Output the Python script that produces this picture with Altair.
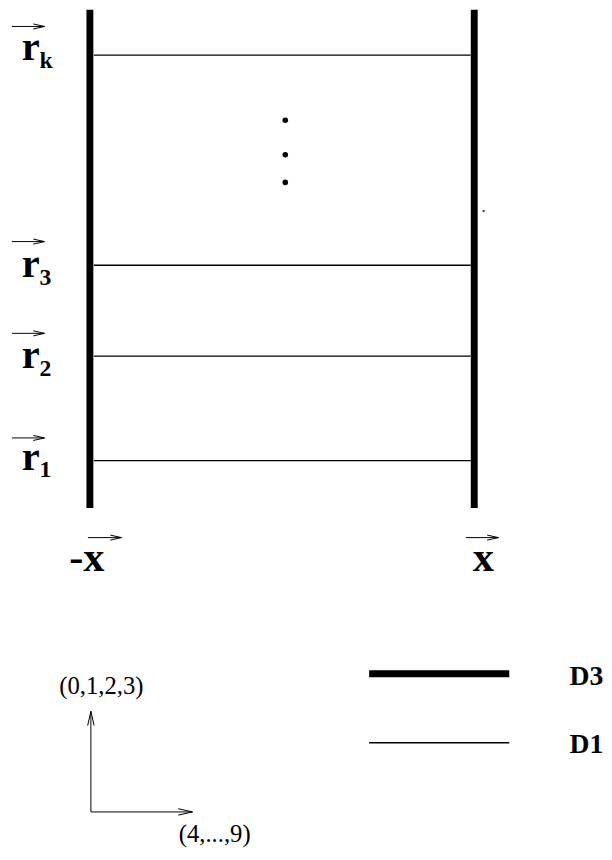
import altair as alt
import pandas as pd

# ---- diagram data (pixel coordinates of the page) ----
frame_x = [91, 480.5]            # thick D3 boundary lines
frame_top = [4, 4]
frame_bottom = [509, 509]

row_y = [50, 263, 355, 461]      # thin D1 lines r_k, r_3, r_2, r_1
row_x0 = [95, 95, 95, 95]
row_x1 = [477, 477, 477, 477]

vec_main = ["r", "r", "r", "r"]
vec_sub = ["k", "3", "2", "1"]
vec_main_x = [22, 22, 22, 22]
vec_sub_x = [40, 40, 40, 40]
vec_base_y = [55, 275, 367, 470]
vec_sub_y = [63, 283, 375, 478]

dots_x = [289, 289, 289]
dots_y = [116, 151, 179]
speck_x = [490]
speck_y = [208]

xlab_text = ["-x", "x"]
xlab_x = [70, 479]
xlab_y = [573, 573]

# arrows: shaft start -> tip, head angle, head size
arr_x0 = [12, 12, 12, 12, 89, 472, 92, 92]
arr_y0 = [21, 239, 332, 438, 539, 539, 817, 817]
arr_x1 = [45, 45, 45, 45, 123, 505, 92, 195]
arr_y1 = [21, 239, 332, 438, 539, 539, 715, 817]
arr_ang = [0, 0, 0, 0, 0, 0, 270, 0]
arr_head = [130, 130, 130, 130, 130, 130, 210, 210]

basis_text = ["(0,1,2,3)", "(4,...,9)"]
basis_x = [60, 181]
basis_y = [697, 847]

leg_names = ["D3", "D1"]
leg_width = [7, 1.5]
leg_y = [677, 747]
leg_x0 = [374, 374]
leg_x1 = [516, 516]
leg_text_x = [577, 577]
leg_text_y = [688, 757]

# ---- scales: data units == page pixels ----
W, H = 604, 852
xs = alt.Scale(domain=[8, 612], nice=False, zero=False)
ys = alt.Scale(domain=[8, 860], nice=False, zero=False, reverse=True)


def X(f):
    return alt.X(f, type="quantitative", scale=xs, axis=None)


def X2(f):
    return alt.X2(f)


def Y(f):
    return alt.Y(f, type="quantitative", scale=ys, axis=None)


def Y2(f):
    return alt.Y2(f)


frame_df = pd.DataFrame({"x": frame_x, "y": frame_top, "y2": frame_bottom})
rows_df = pd.DataFrame({"x": row_x0, "x2": row_x1, "y": row_y})
vec_df = pd.DataFrame({"t": vec_main, "x": vec_main_x, "y": vec_base_y})
sub_df = pd.DataFrame({"t": vec_sub, "x": vec_sub_x, "y": vec_sub_y})
dots_df = pd.DataFrame({"x": dots_x, "y": dots_y})
speck_df = pd.DataFrame({"x": speck_x, "y": speck_y})
xlab_df = pd.DataFrame({"t": xlab_text, "x": xlab_x, "y": xlab_y})
arr_df = pd.DataFrame({"x": arr_x0, "y": arr_y0, "x2": arr_x1, "y2": arr_y1,
                       "ang": arr_ang, "hs": arr_head})
basis_df = pd.DataFrame({"t": basis_text, "x": basis_x, "y": basis_y})
leg_df = pd.DataFrame({"name": leg_names, "w": leg_width, "y": leg_y,
                       "x": leg_x0, "x2": leg_x1,
                       "tx": leg_text_x, "ty": leg_text_y})

serif = "Liberation Serif"

frame = alt.Chart(frame_df).mark_rule(color="black", strokeWidth=7, strokeCap="butt").encode(
    x=X("x"), y=Y("y"), y2=Y2("y2"))

rows = alt.Chart(rows_df).mark_rule(color="black", strokeWidth=1.3).encode(
    x=X("x"), x2=X2("x2"), y=Y("y"))

vec = alt.Chart(vec_df).mark_text(font=serif, fontWeight="bold", fontSize=41,
                                  align="left", baseline="alphabetic", color="black").encode(
    x=X("x"), y=Y("y"), text="t:N")

sub = alt.Chart(sub_df).mark_text(font=serif, fontWeight="bold", fontSize=24,
                                  align="left", baseline="alphabetic", color="black").encode(
    x=X("x"), y=Y("y"), text="t:N")

dots = alt.Chart(dots_df).mark_circle(color="black", size=32, opacity=1).encode(
    x=X("x"), y=Y("y"))

speck = alt.Chart(speck_df).mark_square(color="#555555", size=5, opacity=1).encode(
    x=X("x"), y=Y("y"))

xlab = alt.Chart(xlab_df).mark_text(font=serif, fontWeight="bold", fontSize=43,
                                    align="left", baseline="alphabetic", color="black").encode(
    x=X("x"), y=Y("y"), text="t:N")

shafts = alt.Chart(arr_df).mark_rule(color="black", strokeWidth=1).encode(
    x=X("x"), y=Y("y"), x2=X2("x2"), y2=Y2("y2"))

heads = alt.Chart(arr_df).mark_point(shape="M-2,-0.45L0,0L-2,0.45", filled=False,
                                     color="black", strokeWidth=1, opacity=1).encode(
    x=X("x2"), y=Y("y2"),
    angle=alt.Angle("ang:Q", scale=None),
    size=alt.Size("hs:Q", scale=None))

basis = alt.Chart(basis_df).mark_text(font=serif, fontSize=25, align="left",
                                      baseline="alphabetic", color="black").encode(
    x=X("x"), y=Y("y"), text="t:N")

leg_lines = alt.Chart(leg_df).mark_rule(color="black", strokeCap="butt").encode(
    x=X("x"), x2=X2("x2"), y=Y("y"),
    strokeWidth=alt.StrokeWidth("w:Q", scale=None))

leg_text = alt.Chart(leg_df).mark_text(font=serif, fontWeight="bold", fontSize=28,
                                       align="left", baseline="alphabetic", color="black").encode(
    x=X("tx"), y=Y("ty"), text="name:N")

chart = alt.layer(frame, rows, vec, sub, dots, speck, xlab, shafts, heads,
                  basis, leg_lines, leg_text).properties(
    width=W, height=H, padding=0, autosize=alt.AutoSizeParams(type="none"),
    background="white"
).configure_view(stroke=None)

chart.save("out.html", embed_options={"renderer": "svg", "actions": False})
